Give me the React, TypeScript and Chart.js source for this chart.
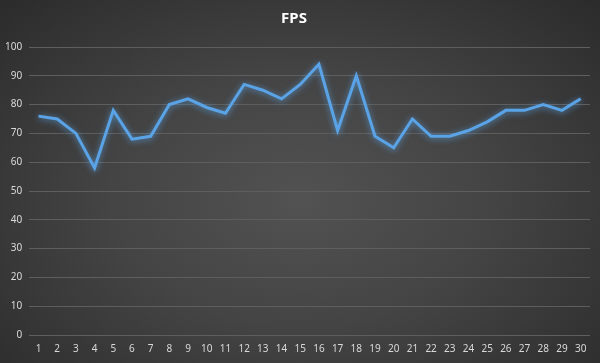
import React, { useEffect, useRef } from "react";
import { Chart, registerables } from "chart.js";

Chart.register(...registerables);

const categories = ["1","2","3","4","5","6","7","8","9","10","11","12","13","14","15","16","17","18","19","20","21","22","23","24","25","26","27","28","29","30"];
const fpsValues = [76,75,70,58,78,68,69,80,82,79,77,87,85,82,87,94,71,90,69,65,75,69,69,71,74,78,78,80,78,82];
const chartTitle = "FPS";

const glowPlugin = {
  id: "glow",
  beforeDatasetDraw(chart: any) {
    const ctx = chart.ctx;
    ctx.save();
    ctx.shadowColor = "rgba(91,170,240,0.75)";
    ctx.shadowBlur = 6;
    ctx.shadowOffsetX = 0;
    ctx.shadowOffsetY = 1;
  },
  afterDatasetDraw(chart: any) {
    chart.ctx.restore();
  },
};

export default function App() {
  const ref = useRef<HTMLCanvasElement>(null);
  useEffect(() => {
    if (!ref.current) return;
    const font = "'Microsoft YaHei', 'Noto Sans', 'DejaVu Sans', sans-serif";
    const chart = new Chart(ref.current, {
      type: "line",
      data: {
        labels: categories,
        datasets: [
          {
            label: chartTitle,
            data: fpsValues,
            borderColor: "#5aa3e6",
            borderWidth: 3,
            pointRadius: 0,
            tension: 0,
            fill: false,
          },
        ],
      },
      plugins: [glowPlugin],
      options: {
        animation: false,
        responsive: false,
        maintainAspectRatio: false,
        layout: { padding: { left: -2, right: 10, top: 7, bottom: 0 } },
        plugins: {
          legend: { display: false },
          tooltip: { enabled: false },
          title: {
            display: true,
            text: chartTitle,
            color: "#ffffff",
            font: { family: font, size: 15, weight: "bold" },
            padding: { top: 3, bottom: 19 },
          },
        },
        scales: {
          x: {
            offset: true,
            grid: { display: false, drawTicks: false },
            border: { display: false },
            ticks: {
              color: "#d9d9d9",
              font: { family: font, size: 10 },
              padding: 8,
              maxRotation: 0,
              autoSkip: false,
            },
          },
          y: {
            min: 0,
            max: 100,
            grid: { color: "#5e5e5e", lineWidth: 1, drawTicks: false },
            border: { display: false },
            ticks: {
              stepSize: 10,
              color: "#d9d9d9",
              font: { family: font, size: 10 },
              padding: 7,
            },
          },
        },
      },
    });
    return () => chart.destroy();
  }, []);
  return (
    <div
      style={{
        position: "fixed",
        left: 0,
        top: 0,
        width: 600,
        height: 363,
        background: "radial-gradient(ellipse at 50% 55%, #525252 0%, #444444 45%, #2b2b2b 100%)",
      }}
    >
      <canvas ref={ref} width={600} height={363} />
    </div>
  );
}
